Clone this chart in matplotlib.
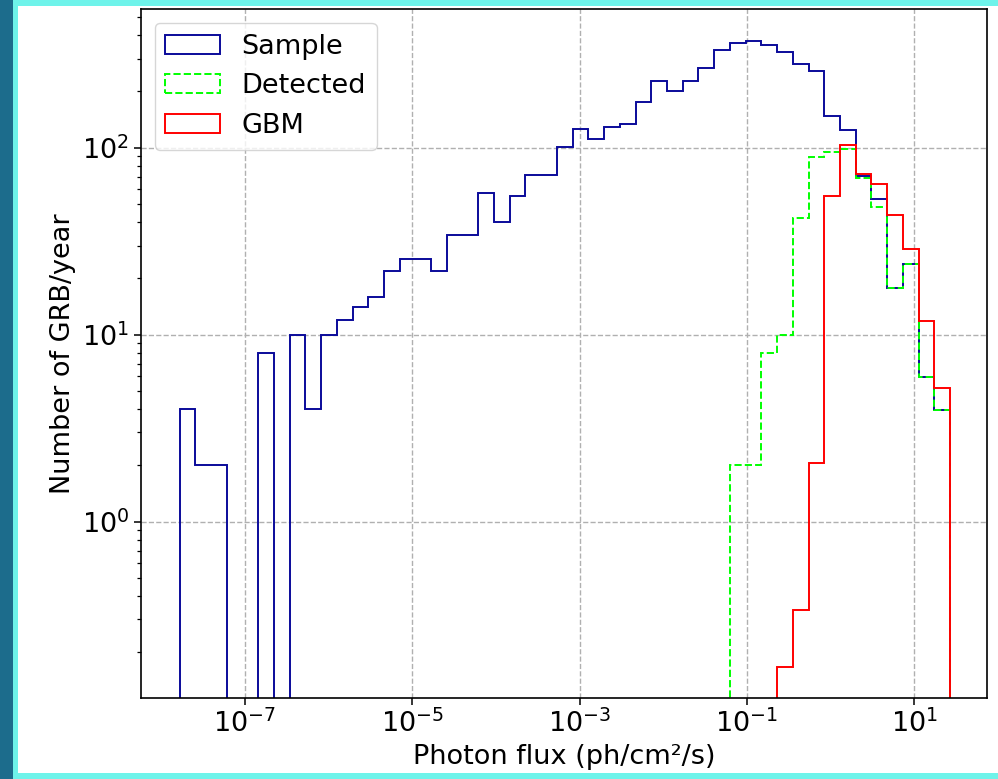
import numpy as np
import matplotlib
matplotlib.use("Agg")
import matplotlib.pyplot as plt
from matplotlib.patches import Rectangle
from matplotlib.ticker import NullLocator

# ---- data ----
log_edge_min = -7.782
log_edge_max = 1.427
n_bins = 49

sample_counts = [4, 2, 2, 0, 0, 8, 0, 10, 4, 10, 12, 14, 16, 22, 25.5, 25.5, 22,
                 34, 34, 57.5, 40, 55.4, 71.7, 71.7, 101, 126, 112, 129.5, 133.5,
                 176, 227.5, 201.5, 227.5, 267, 333, 364, 372, 354, 326, 282, 258,
                 147.5, 124, 71, 53.4, 17.7, 23.9, 5.93, 3.97]
detected_counts = [0] * 35 + [2, 2, 8, 10, 42, 89, 95, 98.4, 68.6, 48, 17.7, 23.9, 5.96, 3.96]
gbm_counts = [0] * 38 + [0.168, 0.337, 2.05, 55.2, 104, 72.6, 64, 43.5, 28.6, 11.8, 5.17]

series_labels = ["Sample", "Detected", "GBM"]
x_ticks = [1e-7, 1e-5, 1e-3, 1e-1, 1e1]
y_ticks = [1e0, 1e1, 1e2]
x_label = "Photon flux (ph/cm²/s)"
y_label = "Number of GRB/year"

# ---- figure ----
W, H = 998, 779
fig = plt.figure(figsize=(W / 100, H / 100), dpi=100)
fig.patch.set_facecolor("white")

# screenshot frame
teal = "#1c6c8c"
cyan = "#6ef3ea"
fig.patches.append(Rectangle((0, 0), 12.5 / W, 1, transform=fig.transFigure,
                             facecolor=teal, edgecolor="none", zorder=-10))
fig.patches.append(Rectangle((12.5 / W, 0), 5.5 / W, 1, transform=fig.transFigure,
                             facecolor=cyan, edgecolor="none", zorder=-10))
fig.patches.append(Rectangle((12.5 / W, 1 - 6 / H), 1, 6 / H, transform=fig.transFigure,
                             facecolor=cyan, edgecolor="none", zorder=-10))
fig.patches.append(Rectangle((12.5 / W, 0), 1, 5.7 / H, transform=fig.transFigure,
                             facecolor=cyan, edgecolor="none", zorder=-10))

ax = fig.add_axes([141 / W, 1 - 697.7 / H, (987 - 141) / W, (697.7 - 9.3) / H])
ax.set_xscale("log")
ax.set_yscale("log", nonpositive="clip")

edges = np.logspace(log_edge_min, log_edge_max, n_bins + 1)
centers = np.sqrt(edges[:-1] * edges[1:])

ax.hist(centers, bins=edges, weights=sample_counts, histtype="step",
        color="#0a0a9a", lw=1.4, label=series_labels[0])
ax.hist(centers, bins=edges, weights=detected_counts, histtype="step",
        color="#00ff00", lw=1.4, ls="--", label=series_labels[1])
ax.hist(centers, bins=edges, weights=gbm_counts, histtype="step",
        color="red", lw=1.4, label=series_labels[2])

ax.set_xlim(10 ** -8.243, 10 ** 1.869)
ax.set_ylim(0.1145, 550)
ax.set_xticks(x_ticks)
ax.set_yticks(y_ticks)
ax.xaxis.set_minor_locator(NullLocator())

fs = 19.5
ax.set_xlabel(x_label, fontsize=fs)
ax.set_ylabel(y_label, fontsize=fs)
ax.tick_params(axis="both", which="major", labelsize=fs, length=5, width=1.1)
ax.tick_params(axis="both", which="minor", length=3, width=0.9, labelleft=False)
for s in ax.spines.values():
    s.set_linewidth(1.2)

ax.grid(True, which="major", ls="--", color="#b0b0b0", lw=1.0)
ax.legend(loc="upper left", fontsize=fs, borderaxespad=0.5)

fig.savefig("out.png", dpi=100)
